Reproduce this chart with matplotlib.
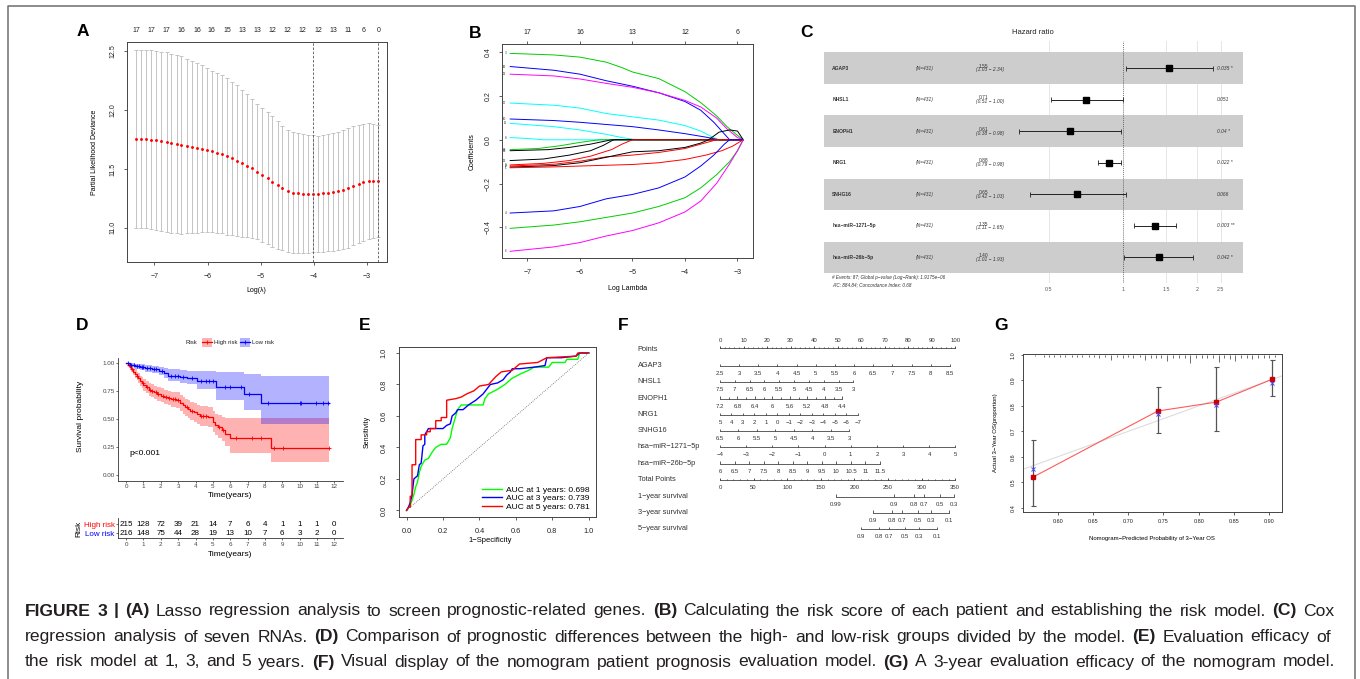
import numpy as np
import matplotlib
matplotlib.use("Agg")
import matplotlib.pyplot as plt
from matplotlib.patches import Rectangle

plt.rcParams['font.family'] = ['Liberation Sans', 'DejaVu Sans']

W, H = 1360, 679

# =====================================================================
# DATA
# =====================================================================
# --- A: cross-validated partial likelihood deviance
A_LOGLAM = [-7.34, -7.25, -7.15, -7.06, -6.96, -6.87, -6.77, -6.68, -6.58, -6.49,
            -6.39, -6.30, -6.20, -6.11, -6.01, -5.92, -5.82, -5.73, -5.63, -5.54,
            -5.44, -5.35, -5.25, -5.16, -5.06, -4.97, -4.87, -4.78, -4.68, -4.59,
            -4.49, -4.40, -4.30, -4.21, -4.11, -4.02, -3.92, -3.83, -3.73, -3.64,
            -3.54, -3.45, -3.35, -3.26, -3.16, -3.07, -2.97, -2.88, -2.79]
A_DEV = [11.753, 11.753, 11.753, 11.750, 11.744, 11.736, 11.727, 11.719, 11.710, 11.705,
         11.696, 11.688, 11.679, 11.671, 11.662, 11.651, 11.637, 11.625, 11.608, 11.591,
         11.572, 11.549, 11.529, 11.507, 11.478, 11.450, 11.422, 11.394, 11.365, 11.340,
         11.314, 11.300, 11.294, 11.291, 11.291, 11.291, 11.291, 11.294, 11.300, 11.306,
         11.314, 11.325, 11.340, 11.357, 11.373, 11.388, 11.399, 11.402, 11.399]
A_SE = [0.755, 0.756, 0.757, 0.758, 0.760, 0.762, 0.764, 0.760, 0.757, 0.753,
        0.743, 0.733, 0.722, 0.710, 0.697, 0.685, 0.678, 0.672, 0.666, 0.653,
        0.640, 0.626, 0.609, 0.592, 0.575, 0.568, 0.561, 0.554, 0.541, 0.528,
        0.515, 0.512, 0.510, 0.507, 0.502, 0.498, 0.493, 0.495, 0.498, 0.500,
        0.503, 0.506, 0.509, 0.505, 0.501, 0.497, 0.490, 0.484, 0.478]
A_NZERO = [17, 17, 17, 16, 16, 16, 15, 13, 13, 12, 12, 12, 12, 13, 11, 6, 0]
A_LAMBDA_MIN = -4.02
A_LAMBDA_1SE = -2.79

# --- B: coefficient paths (log lambda, coefficient)
B_PATHS = [
    [(-7.33, 0.395), (-6.5, 0.388), (-6.0, 0.378), (-5.5, 0.355), (-5.2, 0.33), (-5.0, 0.31),
     (-4.5, 0.28), (-4.0, 0.22), (-3.7, 0.17), (-3.4, 0.11), (-3.2, 0.06), (-3.0, 0.02), (-2.89, 0.0)],
    [(-7.33, 0.335), (-6.5, 0.318), (-6.0, 0.30), (-5.5, 0.27), (-5.0, 0.245), (-4.5, 0.215),
     (-4.0, 0.175), (-3.7, 0.135), (-3.45, 0.08), (-3.3, 0.04), (-3.15, 0.0), (-2.89, 0.0)],
    [(-7.33, 0.30), (-6.5, 0.292), (-6.0, 0.278), (-5.5, 0.258), (-5.0, 0.24), (-4.5, 0.215),
     (-4.0, 0.18), (-3.7, 0.15), (-3.4, 0.10), (-3.2, 0.05), (-3.0, 0.01), (-2.89, 0.0)],
    [(-7.33, 0.168), (-6.5, 0.158), (-6.0, 0.145), (-5.5, 0.12), (-5.0, 0.105), (-4.5, 0.09),
     (-4.0, 0.065), (-3.7, 0.04), (-3.5, 0.015), (-3.35, 0.0), (-2.89, 0.0)],
    [(-7.33, 0.095), (-6.5, 0.088), (-6.0, 0.08), (-5.0, 0.06), (-4.5, 0.045), (-4.0, 0.028),
     (-3.6, 0.012), (-3.35, 0.0), (-2.89, 0.0)],
    [(-7.33, 0.075), (-6.5, 0.06), (-6.0, 0.045), (-5.5, 0.025), (-5.2, 0.01), (-5.0, 0.003),
     (-4.9, 0.0), (-2.89, 0.0)],
    [(-7.33, 0.01), (-7.0, 0.006), (-6.7, 0.0), (-2.89, 0.0)],
    [(-7.33, -0.045), (-6.8, -0.04), (-6.4, -0.028), (-6.0, -0.012), (-5.7, -0.002), (-5.6, 0.0), (-2.89, 0.0)],
    [(-7.33, -0.05), (-6.6, -0.045), (-6.2, -0.035), (-5.8, -0.02), (-5.5, -0.005), (-5.4, 0.0), (-2.89, 0.0)],
    [(-7.33, -0.095), (-6.7, -0.088), (-6.2, -0.07), (-5.8, -0.05), (-5.55, -0.025), (-5.4, -0.005),
     (-5.35, 0.0), (-2.89, 0.0)],
    [(-7.33, -0.115), (-6.7, -0.108), (-6.2, -0.095), (-5.8, -0.075), (-5.4, -0.045), (-5.2, -0.02),
     (-5.0, 0.0), (-2.89, 0.0)],
    [(-7.33, -0.12), (-6.5, -0.112), (-6.0, -0.098), (-5.5, -0.078), (-5.0, -0.07), (-4.5, -0.058),
     (-4.0, -0.04), (-3.7, -0.02), (-3.4, 0.0), (-2.89, 0.0)],
    [(-7.33, -0.125), (-6.5, -0.118), (-6.0, -0.105), (-5.5, -0.08), (-5.0, -0.055), (-4.5, -0.05),
     (-4.0, -0.035), (-3.7, -0.015), (-3.55, 0.0), (-3.35, 0.035), (-3.15, 0.045), (-3.0, 0.04), (-2.89, 0.0)],
    [(-7.33, -0.128), (-6.5, -0.124), (-6.0, -0.12), (-5.0, -0.113), (-4.5, -0.105), (-4.0, -0.09),
     (-3.6, -0.07), (-3.3, -0.05), (-3.1, -0.03), (-2.89, 0.0)],
    [(-7.33, -0.335), (-6.5, -0.325), (-6.0, -0.305), (-5.5, -0.27), (-5.0, -0.25), (-4.5, -0.22),
     (-4.0, -0.17), (-3.7, -0.12), (-3.45, -0.07), (-3.25, -0.02), (-3.15, 0.0), (-2.89, 0.0)],
    [(-7.33, -0.405), (-6.5, -0.39), (-6.0, -0.375), (-5.5, -0.355), (-5.0, -0.335), (-4.5, -0.305),
     (-4.0, -0.265), (-3.7, -0.22), (-3.4, -0.16), (-3.15, -0.1), (-3.0, -0.05), (-2.89, 0.0)],
    [(-7.33, -0.51), (-6.5, -0.49), (-6.0, -0.47), (-5.5, -0.44), (-5.0, -0.415), (-4.5, -0.38),
     (-4.0, -0.33), (-3.7, -0.28), (-3.4, -0.2), (-3.15, -0.11), (-3.0, -0.05), (-2.89, 0.0)],
]
B_COLORS = ['#00CD00', '#0000FF', '#FF00FF', '#00FFFF', '#0000FF', '#00FFFF', '#00FFFF', '#00CD00',
            '#000000', '#000000', '#FF0000', '#FF0000', '#000000', '#FF0000', '#0000FF', '#00CD00', '#FF00FF']
B_VARNUM = ['3', '16', '12', '17', '10', '11', '8', '14', '15', '13', '9', '2', '7', '1', '4', '5', '6']
B_TOP_AT = [-7, -6, -5, -4, -3]
B_TOP_NZERO = ['17', '16', '13', '12', '6']

# --- C: multivariate Cox forest plot
C_GENES = ['AGAP3', 'NHSL1', 'ENOPH1', 'NRG1', 'SNHG16', 'hsa−miR−1271−5p', 'hsa−miR−26b−5p']
C_HR = [1.55, 0.71, 0.61, 0.88, 0.65, 1.35, 1.40]
C_LO = [1.03, 0.51, 0.38, 0.79, 0.42, 1.11, 1.01]
C_HI = [2.34, 1.00, 0.98, 0.98, 1.03, 1.65, 1.93]
C_P = ['0.035 *', '0.051', '0.04 *', '0.022 *', '0.066', '0.003 **', '0.042 *']
C_TICKS = [0.5, 1, 1.5, 2, 2.5]

# --- D: Kaplan-Meier
HIGH_T = [0, 0.1, 0.2, 0.3, 0.4, 0.5, 0.6, 0.7, 0.8, 0.9, 1.0, 1.15, 1.3, 1.45, 1.6, 1.8, 2.0, 2.2,
          2.4, 2.6, 2.9, 3.1, 3.25, 3.4, 3.55, 3.7, 3.9, 4.1, 4.25, 4.7, 5.0, 5.15, 5.3, 5.5, 5.7, 6.0, 8.35]
HIGH_S = [1.0, 0.985, 0.965, 0.945, 0.925, 0.905, 0.885, 0.865, 0.845, 0.825, 0.805, 0.785, 0.765,
          0.75, 0.74, 0.725, 0.71, 0.70, 0.69, 0.68, 0.67, 0.645, 0.625, 0.605, 0.59, 0.575, 0.56,
          0.545, 0.525, 0.515, 0.475, 0.45, 0.425, 0.405, 0.37, 0.33, 0.245]
HIGH_LO = [1.0, 0.97, 0.945, 0.92, 0.895, 0.87, 0.85, 0.825, 0.80, 0.78, 0.755, 0.735, 0.71,
           0.695, 0.68, 0.665, 0.65, 0.635, 0.625, 0.61, 0.60, 0.57, 0.55, 0.53, 0.51, 0.495, 0.475,
           0.46, 0.44, 0.425, 0.385, 0.355, 0.33, 0.30, 0.26, 0.20, 0.115]
HIGH_UP = [1.0, 1.0, 0.99, 0.975, 0.96, 0.945, 0.925, 0.91, 0.89, 0.875, 0.86, 0.84, 0.825,
           0.81, 0.80, 0.79, 0.775, 0.765, 0.755, 0.745, 0.74, 0.72, 0.70, 0.68, 0.67, 0.655, 0.645,
           0.63, 0.615, 0.605, 0.57, 0.55, 0.535, 0.52, 0.51, 0.51, 0.51]
LOW_T = [0, 0.2, 0.5, 0.8, 1.1, 1.5, 1.9, 2.2, 2.4, 3.1, 3.5, 4.1, 5.2, 6.8, 7.75]
LOW_S = [1.0, 0.985, 0.975, 0.965, 0.955, 0.945, 0.93, 0.91, 0.89, 0.88, 0.87, 0.845, 0.79, 0.725, 0.645]
LOW_LO = [1.0, 0.965, 0.95, 0.94, 0.925, 0.915, 0.895, 0.865, 0.84, 0.825, 0.81, 0.77, 0.67, 0.58, 0.46]
LOW_UP = [1.0, 1.0, 0.998, 0.99, 0.985, 0.98, 0.97, 0.958, 0.945, 0.94, 0.935, 0.93, 0.92, 0.90, 0.885]
KM_END = 11.7
HIGH_CENS = [0.15, 0.35, 0.6, 0.95, 1.2, 1.35, 1.5, 1.7, 1.85, 2.1, 2.3, 2.5, 2.7, 2.8, 3.0, 3.5,
             3.8, 4.3, 4.45, 4.6, 5.35, 5.6, 6.35, 7.25, 7.8, 8.55, 9.05, 11.7]
LOW_CENS = [0.1, 0.3, 0.45, 0.65, 0.75, 0.9, 1.0, 1.2, 1.35, 1.6, 1.7, 2.05, 2.6, 2.8, 3.0, 3.3,
            3.8, 4.3, 4.6, 4.8, 5.0, 5.7, 6.0, 6.6, 7.1, 8.2, 10.0, 10.1, 10.95, 11.35, 11.65]
RISK_YEARS = list(range(13))
HIGH_N = [215, 128, 72, 39, 21, 14, 7, 6, 4, 1, 1, 1, 0]
LOW_N = [216, 148, 75, 44, 28, 19, 13, 10, 7, 6, 3, 2, 0]

# --- E: time-dependent ROC
ROC1_FPR = [0, 0.02, 0.04, 0.05, 0.06, 0.07, 0.08, 0.10, 0.12, 0.14, 0.16, 0.19, 0.22, 0.24, 0.25,
            0.26, 0.28, 0.30, 0.36, 0.42, 0.43, 0.45, 0.50, 0.54, 0.58, 0.63, 0.67, 0.70, 0.78, 0.80,
            0.87, 0.88, 0.94, 0.95, 1.0]
ROC1_TPR = [0, 0.03, 0.10, 0.15, 0.18, 0.24, 0.28, 0.32, 0.33, 0.37, 0.40, 0.42, 0.42, 0.46, 0.52,
            0.56, 0.64, 0.67, 0.67, 0.67, 0.71, 0.74, 0.77, 0.80, 0.84, 0.87, 0.89, 0.91, 0.91, 0.94,
            0.94, 0.96, 0.96, 1.0, 1.0]
ROC3_FPR = [0, 0.01, 0.02, 0.03, 0.04, 0.06, 0.07, 0.08, 0.09, 0.10, 0.10, 0.12, 0.20, 0.22, 0.24,
            0.25, 0.27, 0.28, 0.31, 0.34, 0.38, 0.42, 0.46, 0.50, 0.53, 0.55, 0.57, 0.58, 0.62, 0.70,
            0.76, 0.77, 0.85, 0.93, 0.95, 1.0]
ROC3_TPR = [0, 0.02, 0.05, 0.10, 0.20, 0.22, 0.29, 0.30, 0.41, 0.42, 0.48, 0.52, 0.52, 0.54, 0.55,
            0.60, 0.62, 0.64, 0.64, 0.67, 0.70, 0.74, 0.80, 0.81, 0.83, 0.86, 0.88, 0.90, 0.90, 0.91,
            0.92, 0.97, 0.97, 0.98, 1.0, 1.0]
ROC5_FPR = [0, 0.01, 0.02, 0.02, 0.03, 0.03, 0.05, 0.05, 0.08, 0.08, 0.11, 0.11, 0.13, 0.13, 0.16,
            0.16, 0.19, 0.19, 0.22, 0.22, 0.27, 0.30, 0.33, 0.37, 0.40, 0.45, 0.49, 0.52, 0.58, 0.62,
            0.72, 0.77, 0.93, 0.94, 1.0]
ROC5_TPR = [0, 0.02, 0.02, 0.09, 0.09, 0.29, 0.29, 0.45, 0.45, 0.48, 0.48, 0.50, 0.50, 0.52, 0.52,
            0.57, 0.57, 0.59, 0.59, 0.70, 0.71, 0.72, 0.74, 0.76, 0.79, 0.80, 0.85, 0.88, 0.89, 0.93,
            0.94, 0.97, 0.98, 1.0, 1.0]
ROC_AUC = [0.698, 0.739, 0.781]

# --- F: nomogram
NOMO_VARS = ['AGAP3', 'NHSL1', 'ENOPH1', 'NRG1', 'SNHG16', 'hsa−miR−1271−5p', 'hsa−miR−26b−5p']
NOMO_TICKS = [
    [2.5, 3, 3.5, 4, 4.5, 5, 5.5, 6, 6.5, 7, 7.5, 8, 8.5],
    [7.5, 7, 6.5, 6, 5.5, 5, 4.5, 4, 3.5, 3],
    [7.2, 6.8, 6.4, 6, 5.6, 5.2, 4.8, 4.4],
    [5, 4, 3, 2, 1, 0, -1, -2, -3, -4, -5, -6, -7],
    [6.5, 6, 5.5, 5, 4.5, 4, 3.5, 3],
    [-4, -3, -2, -1, 0, 1, 2, 3, 4, 5],
    [6, 6.5, 7, 7.5, 8, 8.5, 9, 9.5, 10, 10.5, 11, 11.5],
]
NOMO_MAXPTS = [97.7, 56.7, 52.0, 58.5, 55.0, 100.0, 68.0]
SURV_NAMES = ['1−year survival', '3−year survival', '5−year survival']
SURV_TICKS = [[0.99, 0.9, 0.8, 0.7, 0.5, 0.3],
              [0.9, 0.8, 0.7, 0.5, 0.3, 0.1],
              [0.9, 0.8, 0.7, 0.5, 0.3, 0.1]]
SURV_TOTPTS = [[172.0, 259.3, 288.0, 303.0, 327.7, 348.5],
               [227.0, 255.3, 271.1, 294.4, 314.3, 341.0],
               [209.0, 236.9, 251.7, 275.5, 295.4, 323.1]]
TOTAL_MAX = 350

# --- G: calibration
CAL_PRED = [0.565, 0.742, 0.825, 0.904]
CAL_OBS = [0.52, 0.78, 0.815, 0.905]
CAL_KM = [0.55, 0.77, 0.803, 0.89]
CAL_LO = [0.408, 0.693, 0.70, 0.838]
CAL_HI = [0.665, 0.873, 0.952, 0.98]
RUG_X = [0.568, 0.580, 0.587, 0.595, 0.603, 0.611, 0.620, 0.627, 0.634, 0.644,
         0.651, 0.659, 0.667, 0.676, 0.684, 0.692, 0.700, 0.707, 0.716, 0.724,
         0.732, 0.740, 0.747, 0.755, 0.763, 0.772, 0.780, 0.788, 0.796, 0.804,
         0.811, 0.820, 0.828, 0.836, 0.844, 0.852, 0.860, 0.868, 0.876, 0.884,
         0.893, 0.900, 0.908]
RUG_LEN = [0.005, 0.006, 0.007, 0.008, 0.006, 0.008, 0.007, 0.006, 0.009, 0.008,
           0.007, 0.010, 0.008, 0.018, 0.009, 0.010, 0.008, 0.011, 0.009, 0.020,
           0.010, 0.012, 0.011, 0.025, 0.012, 0.013, 0.011, 0.030, 0.012, 0.010,
           0.013, 0.011, 0.026, 0.012, 0.014, 0.022, 0.013, 0.012, 0.015, 0.010,
           0.012, 0.011, 0.008]

CAPTION = [
    "FIGURE 3 | (A) Lasso regression analysis to screen prognostic-related genes. (B) Calculating the risk "
    "score of each patient and establishing the risk model. (C) Cox",
    "regression analysis of seven RNAs. (D) Comparison of prognostic differences between the high- and "
    "low-risk groups divided by the model. (E) Evaluation efficacy of",
    "the risk model at 1, 3, and 5 years. (F) Visual display of the nomogram patient prognosis evaluation "
    "model. (G) A 3-year evaluation efficacy of the nomogram model.",
]

# =====================================================================
# HELPERS
# =====================================================================
fig = plt.figure(figsize=(W / 100, H / 100), dpi=100, facecolor='white')

ax0 = fig.add_axes([0, 0, 1, 1])
ax0.set_xlim(0, W)
ax0.set_ylim(H, 0)
ax0.axis('off')


def px_axes(l, t, r, b):
    ax = fig.add_axes([l / W, 1 - b / H, (r - l) / W, (b - t) / H])
    ax.set_facecolor('none')
    return ax


def r_style(ax, fs, length=2.2, padx=5.5, pady=5.5):
    for s in ax.spines.values():
        s.set_linewidth(0.7)
        s.set_color('#444444')
    ax.tick_params(labelsize=fs, length=length, width=0.6, color='#444444', labelcolor='#222222')
    ax.tick_params(axis='x', pad=padx)
    ax.tick_params(axis='y', pad=pady, labelrotation=90)
    for lab in ax.get_yticklabels():
        lab.set_va('center')


def ptxt(x, y, s, fs, **kw):
    kw.setdefault('ha', 'center')
    kw.setdefault('va', 'center')
    return ax0.text(x, y, s, fontsize=fs, **kw)


# outer frame
ax0.plot([8, 8, 1355, 1355], [H, 6, 6, H], color='#6e6e6e', lw=1.1, clip_on=False)

# panel letters
for lab, x, y in [('A', 83, 32), ('B', 475, 33), ('C', 806.7, 32.7), ('D', 81.7, 325),
                  ('E', 365, 325), ('F', 623.5, 325), ('G', 1000.7, 325)]:
    ptxt(x, y, lab, 12.5, fontweight='bold', color='black')

# =====================================================================
# A
# =====================================================================
axA = px_axes(126.7, 42, 386.7, 262)
axA.errorbar(A_LOGLAM, A_DEV, yerr=A_SE, fmt='none', ecolor='#c4c4c4',
             elinewidth=0.7, capsize=1.3, capthick=0.7)
axA.plot(A_LOGLAM, A_DEV, 'o', color='#ff0000', ms=2.1, mec='none')
for v in (A_LAMBDA_MIN, A_LAMBDA_1SE):
    axA.axvline(v, color='#555555', ls=(0, (3, 2)), lw=0.6)
axA.set_xlim(-7.52, -2.63)
axA.set_ylim(10.71, 12.58)
axA.set_xticks([-7, -6, -5, -4, -3])
axA.set_yticks([11.0, 11.5, 12.0, 12.5], ['11.0', '11.5', '12.0', '12.5'])
r_style(axA, 5)
topA = axA.secondary_xaxis('top')
topA.set_xticks(A_LOGLAM[::3], [str(n) for n in A_NZERO])
topA.tick_params(length=0, labelsize=5, pad=5.8, labelcolor='#222222')
topA.spines['top'].set_visible(False)
ptxt(256.7, 291, 'Log(λ)', 5)
ptxt(95, 152, 'Partial Likelihood Deviance', 5, rotation=90)

# =====================================================================
# B
# =====================================================================
axB = px_axes(502.3, 44, 752.7, 258.3)
for path, col, num in zip(B_PATHS, B_COLORS, B_VARNUM):
    xs, ys = zip(*path)
    axB.plot(xs, ys, color=col, lw=0.7)
    axB.text(xs[0] - 0.07, ys[0], num, fontsize=2.2, ha='right', va='center', color='#333333')
axB.set_xlim(-7.48, -2.71)
axB.set_ylim(-0.542, 0.438)
axB.set_xticks([-7, -6, -5, -4, -3])
axB.set_yticks([-0.4, -0.2, 0.0, 0.2, 0.4], ['−0.4', '−0.2', '0.0', '0.2', '0.4'])
r_style(axB, 5, padx=5.3, pady=5.2)
topB = axB.secondary_xaxis('top')
topB.set_xticks(B_TOP_AT, B_TOP_NZERO)
topB.tick_params(length=2.2, width=0.6, color='#444444', labelsize=5, pad=3.2, labelcolor='#222222')
topB.spines['top'].set_visible(False)
ptxt(627.5, 288, 'Log Lambda', 5)
ptxt(471.7, 152, 'Coefficients', 5, rotation=90)

# =====================================================================
# C
# =====================================================================
axC = px_axes(824, 40.7, 1242.7, 283)
axC.set_xlim(-2.797, 1.124)
axC.set_ylim(6.81, -0.867)
for i in range(len(C_GENES)):
    if i % 2 == 0:
        axC.axhspan(i - 0.5, i + 0.5, color='#cdcdcd', lw=0, zorder=1)
for v in C_TICKS:
    if v != 1:
        axC.axvline(np.log(v), color='#e2e2e2', lw=0.6, zorder=0)
axC.axvline(0, color='#444444', ls=(0, (1.5, 1.5)), lw=0.5, zorder=3)
lhr, llo, lhi = np.log(C_HR), np.log(C_LO), np.log(C_HI)
rows = np.arange(len(C_GENES))
axC.hlines(rows, llo, lhi, color='#222222', lw=0.7, zorder=4)
axC.vlines(llo, rows - 0.08, rows + 0.08, color='#222222', lw=0.6, zorder=4)
axC.vlines(lhi, rows - 0.08, rows + 0.08, color='#222222', lw=0.6, zorder=4)
axC.plot(lhr, rows, 's', color='black', ms=4.2, zorder=5)
for i, g in enumerate(C_GENES):
    axC.text(-2.72, i, g, fontsize=3.6, fontweight='bold', va='center', color='#333333', zorder=6)
    axC.text(-1.935, i, '(N=431)', fontsize=3.5, style='italic', va='center', color='#333333', zorder=6)
    axC.text(-1.30, i + 0.02, f'{C_HR[i]:.2f}', fontsize=3.5, ha='center', va='bottom',
             color='#333333', zorder=6)
    axC.text(-1.37, i - 0.02, f'({C_LO[i]:.2f} − {C_HI[i]:.2f})', fontsize=3.5, style='italic',
             ha='left', va='top', color='#333333', zorder=6)
    axC.text(0.88, i, C_P[i], fontsize=3.5, style='italic', va='center', color='#333333', zorder=6)
axC.set_xticks(np.log(C_TICKS), [f'{v:g}' for v in C_TICKS])
axC.set_yticks([])
axC.tick_params(axis='x', length=0, labelsize=3.8, labelcolor='#555555', pad=3.0)
for s in axC.spines.values():
    s.set_visible(False)
ptxt(1033, 33, 'Hazard ratio', 5.5, color='#222222')
ptxt(832, 277.7, '# Events: 87; Global p−value (Log−Rank): 1.9175e−06', 3.3,
     ha='left', style='italic', color='#333333')
ptxt(832, 285, 'AIC: 884.84; Concordance Index: 0.68', 3.3, ha='left', style='italic', color='#333333')

# =====================================================================
# D
# =====================================================================
axD = px_axes(118.3, 357.7, 343, 480.5)
for T, S, LO, UP, col in [(HIGH_T, HIGH_S, HIGH_LO, HIGH_UP, '#ff0000'),
                          (LOW_T, LOW_S, LOW_LO, LOW_UP, '#0000ff')]:
    tt = T + [KM_END]
    axD.fill_between(tt, LO + [LO[-1]], UP + [UP[-1]], step='post', color=col, alpha=0.3, lw=0)
    axD.step(tt, S + [S[-1]], where='post', color=col, lw=0.9)
for T, S, C, col in [(HIGH_T, HIGH_S, HIGH_CENS, '#ff0000'), (LOW_T, LOW_S, LOW_CENS, '#0000ff')]:
    idx = np.searchsorted(T, C, side='right') - 1
    axD.plot(C, np.array(S)[idx], '+', color=col, ms=3, mew=0.6)
axD.text(0.2, 0.19, 'p<0.001', fontsize=6, ha='left', va='center')
axD.set_xlim(-0.45, 12.5)
axD.set_ylim(-0.05, 1.05)
axD.set_xticks(RISK_YEARS)
axD.set_yticks([0, 0.25, 0.5, 0.75, 1.0], ['0.00', '0.25', '0.50', '0.75', '1.00'])
for side in ('top', 'right'):
    axD.spines[side].set_visible(False)
for side in ('left', 'bottom'):
    axD.spines[side].set_linewidth(0.6)
    axD.spines[side].set_color('#333333')
axD.tick_params(labelsize=4.5, length=1.7, width=0.5, color='#333333', labelcolor='#444444', pad=1)
ptxt(80, 416, 'Survival probability', 6, rotation=90)
ptxt(230, 495.7, 'Time(years)', 6)

# legend
ptxt(191, 342.3, 'Risk', 4.3, color='#222222')
for x0, col, lab in [(201.7, '#ff0000', 'High risk'), (240.2, '#0000ff', 'Low risk')]:
    ax0.add_patch(Rectangle((x0, 337.5), 10, 9.5, color=col, alpha=0.3, lw=0))
    ax0.plot([x0, x0 + 10], [342.3, 342.3], color=col, lw=0.9)
    ax0.plot([x0 + 5], [342.3], '+', color=col, ms=3, mew=0.6)
    ptxt(x0 + 11.8, 342.3, lab, 4.3, ha='left', color='#222222')

# risk table
axT = px_axes(118.3, 518, 343, 538.3)
axT.set_xlim(-0.45, 12.5)
axT.set_ylim(0, 1)
for yr, hn, ln in zip(RISK_YEARS, HIGH_N, LOW_N):
    axT.text(yr, 0.69, str(hn), fontsize=5.8, ha='center', va='center')
    axT.text(yr, 0.25, str(ln), fontsize=5.8, ha='center', va='center')
axT.set_xticks(RISK_YEARS)
axT.set_yticks([0.25, 0.69], ['Low risk', 'High risk'])
for lab, col in zip(axT.get_yticklabels(), ['#0000ff', '#ff0000']):
    lab.set_color(col)
for side in ('top', 'right'):
    axT.spines[side].set_visible(False)
for side in ('left', 'bottom'):
    axT.spines[side].set_linewidth(0.6)
    axT.spines[side].set_color('#333333')
axT.tick_params(axis='x', labelsize=4.5, length=1.7, width=0.5, color='#333333', labelcolor='#444444', pad=1)
axT.tick_params(axis='y', labelsize=5.8, length=1.7, width=0.5, color='#333333', pad=1)
ptxt(79, 528.5, 'Risk', 6, rotation=90)
ptxt(230, 554, 'Time(years)', 6)

# =====================================================================
# E
# =====================================================================
axE = px_axes(399.3, 346.7, 596, 516.7)
for fpr, tpr, col, yr, auc in [(ROC1_FPR, ROC1_TPR, '#00ff00', 1, ROC_AUC[0]),
                               (ROC3_FPR, ROC3_TPR, '#0000ff', 3, ROC_AUC[1]),
                               (ROC5_FPR, ROC5_TPR, '#ff0000', 5, ROC_AUC[2])]:
    axE.plot(fpr, tpr, color=col, lw=1.0, label=f'AUC at {yr} years: {auc:.3f}')
axE.plot([0, 1], [0, 1], color='#666666', ls=(0, (1, 1.5)), lw=0.6)
axE.set_xlim(-0.04, 1.04)
axE.set_ylim(-0.04, 1.04)
ticks = [0, 0.2, 0.4, 0.6, 0.8, 1.0]
axE.set_xticks(ticks, [f'{t:.1f}' for t in ticks])
axE.set_yticks(ticks, [f'{t:.1f}' for t in ticks])
r_style(axE, 5.3, padx=6.0, pady=6.2)
axE.legend(loc='lower right', frameon=False, fontsize=6.1, handlelength=2.4, handletextpad=0.5,
           labelspacing=0.05, borderaxespad=0.3)
ptxt(367, 431.7, 'Sensitivity', 5, rotation=90)
ptxt(490.5, 540, '1−Specificity', 5.5)

# =====================================================================
# F
# =====================================================================
axF = px_axes(610, 330, 980, 545)
axF.set_xlim(-46.75, 110.5)
axF.set_ylim(545, 330)
axF.axis('off')
ROW_Y = [347.7, 365.7, 382.0, 398.5, 415.0, 431.3, 447.0, 463.5, 480.0, 496.5, 512.5, 529.0]
LAB_X = -35.0
nomo_kw = dict(color='#333333', lw=0.55)


def nomo_axis(y, pos, labels, minor=None, above=False, fs=4.3):
    axF.plot([pos[0], pos[-1]], [y, y], **nomo_kw)
    axF.vlines(pos, y - 2.2, y, **nomo_kw)
    if minor is not None:
        axF.vlines(minor, y - 1.2, y, **nomo_kw)
    ly = y - 6.8 if above else y + 7.5
    for p, s in zip(pos, labels):
        axF.text(p, ly, s, fontsize=fs, ha='center', va='center', color='#333333')


def fmt(v):
    return f'{v:g}'.replace('-', '−')


# Points scale
pts = list(range(0, 101, 10))
nomo_axis(ROW_Y[0], pts, [str(p) for p in pts], minor=np.arange(0, 101, 2), above=True)
axF.text(LAB_X, ROW_Y[0] + 1.5, 'Points', fontsize=5.3, va='center', color='#333333')
for k, (name, tks, mx) in enumerate(zip(NOMO_VARS, NOMO_TICKS, NOMO_MAXPTS)):
    y = ROW_Y[k + 1]
    tks = np.array(tks, dtype=float)
    pos = (tks - tks[0]) / (tks[-1] - tks[0]) * mx
    minor = None
    if name == 'ENOPH1':
        minor = (pos[:-1] + pos[1:]) / 2
    nomo_axis(y, pos, [fmt(v) for v in tks], minor=minor)
    axF.text(LAB_X, y - 0.5, name, fontsize=5.3, va='center', color='#333333')
# Total points
tp = list(range(0, TOTAL_MAX + 1, 50))
nomo_axis(ROW_Y[8], np.array(tp) * 100 / TOTAL_MAX, [str(v) for v in tp],
          minor=np.arange(0, TOTAL_MAX + 1, 10) * 100 / TOTAL_MAX)
axF.text(LAB_X, ROW_Y[8] - 0.5, 'Total Points', fontsize=5.3, va='center', color='#333333')
for k, (name, tks, tot) in enumerate(zip(SURV_NAMES, SURV_TICKS, SURV_TOTPTS)):
    y = ROW_Y[9 + k]
    nomo_axis(y, np.array(tot) * 100 / TOTAL_MAX, [fmt(v) for v in tks])
    axF.text(LAB_X, y - 0.5, name, fontsize=5.3, va='center', color='#333333')

# =====================================================================
# G
# =====================================================================
axG = px_axes(1022.7, 354.3, 1281.7, 511.7)
axG.plot([0.5, 1.0], [0.5, 1.0], color='#dcdcdc', lw=0.8)
obs = np.array(CAL_OBS)
axG.errorbar(CAL_PRED, obs, yerr=[obs - np.array(CAL_LO), np.array(CAL_HI) - obs], fmt='none',
             ecolor='#555555', elinewidth=0.9, capsize=1.8, capthick=0.8)
axG.plot(CAL_PRED, CAL_OBS, color='#ff5a5a', lw=0.8, marker='s', ms=2.2, mfc='#cc0000', mec='#cc0000')
axG.plot(CAL_PRED, CAL_KM, 'x', color='#4a4aff', ms=2.6, mew=0.7)
axG.vlines(RUG_X, 1.0 - np.array(RUG_LEN), 1.0, color='#333333', lw=0.5)
axG.set_xlim(0.5504, 0.9176)
axG.set_ylim(0.384, 1.003)
gx = [0.60, 0.65, 0.70, 0.75, 0.80, 0.85, 0.90]
gy = [0.4, 0.5, 0.6, 0.7, 0.8, 0.9, 1.0]
axG.set_xticks(gx, [f'{v:.2f}' for v in gx])
axG.set_yticks(gy, [f'{v:.1f}' for v in gy])
r_style(axG, 4, length=1.8, padx=3.8, pady=3.2)
ptxt(995, 433, 'Actual 3−Year OS(proportion)', 4.3, rotation=90)
ptxt(1151.7, 538.3, 'Nomogram−Predicted Probability of 3−Year OS', 4.3)

# =====================================================================
# CAPTION (justified)
# =====================================================================
renderer = fig.canvas.get_renderer()
CAP_FS = 12.6
CAP_Y = [611, 637, 662]
for li, (line, y) in enumerate(zip(CAPTION, CAP_Y)):
    words = line.split(' ')
    texts, widths = [], []
    for wi, w in enumerate(words):
        bold = (li == 0 and wi < 3) or (len(w) == 3 and w[0] == '(' and w[1].isupper() and w[2] == ')')
        t = ax0.text(0, y, w, fontsize=CAP_FS, fontweight='bold' if bold else 'normal',
                     ha='left', va='center', color='#231f20')
        texts.append(t)
        widths.append(t.get_window_extent(renderer).width)
    x0, x1 = 25, 1335
    gap = (x1 - x0 - sum(widths)) / (len(words) - 1)
    gap = max(min(gap, 6.5), 2.5)
    x = x0
    for t, w in zip(texts, widths):
        t.set_x(x)
        x += w + gap

fig.savefig('out.png', dpi=100, facecolor='white')
